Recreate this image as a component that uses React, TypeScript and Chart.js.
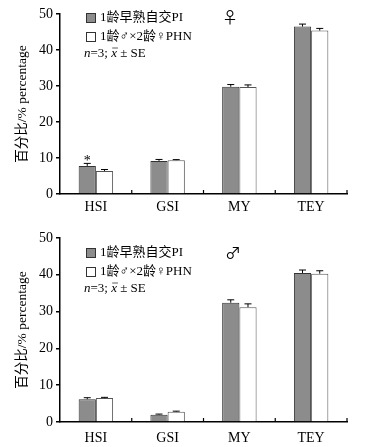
import React, { useEffect, useRef } from "react";
import { Chart, registerables } from "chart.js";
Chart.register(...registerables);

const categories = ["HSI", "GSI", "MY", "TEY"];
const seriesNames = ["1龄早熟自交PI", "1龄♂×2龄♀PHN"];
const yTickValues = [0, 10, 20, 30, 40, 50];
const yTitle = "百分比/% percentage";

// Female panel (♀)
const femalePI = [7.8, 9.2, 29.8, 46.5];
const femalePIErr = [0.7, 0.4, 0.6, 0.7];
const femalePHN = [6.4, 9.4, 29.7, 45.4];
const femalePHNErr = [0.4, 0.15, 0.6, 0.6];
const femaleStars = ["HSI"];

// Male panel (♂)
const malePI = [6.2, 2.0, 32.4, 40.5];
const malePIErr = [0.4, 0.15, 0.8, 0.8];
const malePHN = [6.5, 2.8, 31.2, 40.3];
const malePHNErr = [0.2, 0.15, 0.9, 0.8];
const maleStars: string[] = [];

const SERIF = '"Liberation Serif", "Noto Sans CJK SC", serif';

type Panel = {
  sex: string;
  pi: number[];
  piErr: number[];
  phn: number[];
  phnErr: number[];
  stars: string[];
  height: number;
  padTop: number;
  xHeight: number;
  tickPad: number;
  legendY: number[];
  sexPos: [number, number];
};

function makePlugin(p: Panel) {
  return {
    id: "extras",
    afterDatasetsDraw(chart: any) {
      const ctx = chart.ctx;
      const ys = chart.scales.y;
      const xs = chart.scales.x;
      const area = chart.chartArea;
      ctx.save();
      // error bars (upper half)
      const errs = [p.piErr, p.phnErr];
      chart.data.datasets.forEach((ds: any, di: number) => {
        const meta = chart.getDatasetMeta(di);
        meta.data.forEach((el: any, i: number) => {
          const v = ds.data[i];
          const top = ys.getPixelForValue(v + errs[di][i]);
          ctx.strokeStyle = "#000";
          ctx.lineWidth = 1;
          ctx.beginPath();
          ctx.moveTo(el.x, el.y);
          ctx.lineTo(el.x, top);
          ctx.moveTo(el.x - 3.5, top);
          ctx.lineTo(el.x + 3.5, top);
          ctx.stroke();
          if (di === 0 && p.stars.includes(categories[i])) {
            ctx.fillStyle = "#000";
            ctx.font = "14px " + SERIF;
            ctx.textAlign = "center";
            ctx.textBaseline = "middle";
            ctx.fillText("*", el.x, top - 2);
          }
        });
      });
      // x-axis inner ticks at category boundaries
      const n = categories.length;
      ctx.strokeStyle = "#000";
      ctx.lineWidth = 1.2;
      for (let i = 0; i < n; i++) {
        const bx =
          i < n - 1
            ? (xs.getPixelForValue(i) + xs.getPixelForValue(i + 1)) / 2
            : area.right;
        ctx.beginPath();
        ctx.moveTo(bx, area.bottom);
        ctx.lineTo(bx, area.bottom - 4);
        ctx.stroke();
      }
      // y-axis title
      ctx.save();
      ctx.translate(22, (area.top + area.bottom) / 2);
      ctx.rotate(-Math.PI / 2);
      ctx.font = "13.5px " + SERIF;
      ctx.fillStyle = "#000";
      ctx.textAlign = "center";
      ctx.textBaseline = "middle";
      ctx.fillText(yTitle, 0, 0);
      ctx.restore();
      // legend
      const fills = ["#8c8c8c", "#ffffff"];
      ctx.font = "13px " + SERIF;
      ctx.textBaseline = "middle";
      ctx.textAlign = "left";
      for (let k = 0; k < 2; k++) {
        const y = p.legendY[k];
        ctx.fillStyle = fills[k];
        ctx.fillRect(86, y - 5, 10, 10);
        ctx.strokeStyle = "#333";
        ctx.lineWidth = 1;
        ctx.strokeRect(86.5, y - 4.5, 9, 9);
        ctx.fillStyle = "#000";
        ctx.fillText(seriesNames[k], 100, y);
      }
      // n=3; x̄ ± SE
      const y3 = p.legendY[2];
      let x = 84;
      ctx.font = "italic 13px " + SERIF;
      ctx.fillText("n", x, y3);
      x += ctx.measureText("n").width;
      ctx.font = "13px " + SERIF;
      ctx.fillText("=3; ", x, y3);
      x += ctx.measureText("=3; ").width;
      ctx.font = "italic 13px " + SERIF;
      ctx.fillText("x", x, y3);
      const xw = ctx.measureText("x").width;
      ctx.beginPath();
      ctx.lineWidth = 0.8;
      ctx.moveTo(x + 1, y3 - 6);
      ctx.lineTo(x + xw + 1, y3 - 6);
      ctx.stroke();
      x += xw;
      ctx.font = "13px " + SERIF;
      ctx.fillText(" ± SE", x, y3);
      // sex symbol
      ctx.font = '16px "Noto Sans CJK SC", "DejaVu Sans", sans-serif';
      ctx.fillText(p.sex, p.sexPos[0], p.sexPos[1]);
      ctx.restore();
    },
  };
}

function makeConfig(p: Panel): any {
  const tickFont = { family: SERIF, size: 14 };
  return {
    type: "bar",
    data: {
      labels: categories,
      datasets: [
        {
          label: seriesNames[0],
          data: p.pi,
          backgroundColor: "#8c8c8c",
          borderColor: "#333",
          borderWidth: 1,
        },
        {
          label: seriesNames[1],
          data: p.phn,
          backgroundColor: "#ffffff",
          borderColor: "#555",
          borderWidth: 1,
        },
      ],
    },
    options: {
      responsive: false,
      animation: false,
      devicePixelRatio: 1,
      categoryPercentage: 0.48,
      barPercentage: 1,
      layout: { padding: { top: p.padTop, right: 20, left: 0, bottom: 0 } },
      plugins: { legend: { display: false }, tooltip: { enabled: false } },
      scales: {
        x: {
          grid: { display: false, drawTicks: false },
          border: { display: true, color: "#000", width: 1.5 },
          ticks: { font: tickFont, color: "#000", padding: p.tickPad },
          afterFit: (s: any) => {
            s.height = p.xHeight;
          },
        },
        y: {
          min: 0,
          max: 50,
          afterBuildTicks: (s: any) => {
            s.ticks = yTickValues.map((v) => ({ value: v }));
          },
          grid: {
            drawOnChartArea: false,
            drawTicks: true,
            tickLength: 4,
            color: "#000",
            lineWidth: 1.5,
          },
          border: { display: true, color: "#000", width: 1.5 },
          ticks: { font: tickFont, color: "#000", padding: 3 },
          title: { display: false },
          afterFit: (s: any) => {
            s.width = 60;
          },
        },
      },
    },
    plugins: [makePlugin(p)],
  };
}

const panels: Panel[] = [
  {
    sex: "♀",
    pi: femalePI,
    piErr: femalePIErr,
    phn: femalePHN,
    phnErr: femalePHNErr,
    stars: femaleStars,
    height: 220,
    padTop: 14,
    xHeight: 26,
    tickPad: 5,
    legendY: [18, 37, 54],
    sexPos: [222, 17],
  },
  {
    sex: "♂",
    pi: malePI,
    piErr: malePIErr,
    phn: malePHN,
    phnErr: malePHNErr,
    stars: maleStars,
    height: 227,
    padTop: 18,
    xHeight: 25,
    tickPad: 8,
    legendY: [33, 52, 69],
    sexPos: [225, 33],
  },
];

function PanelChart({ p }: { p: Panel }) {
  const ref = useRef<HTMLCanvasElement>(null);
  useEffect(() => {
    if (!ref.current) return;
    const chart = new Chart(ref.current, makeConfig(p));
    return () => chart.destroy();
  }, [p]);
  return (
    <canvas
      ref={ref}
      width={367}
      height={p.height}
      style={{ display: "block", width: 367, height: p.height }}
    />
  );
}

export default function App() {
  return (
    <div
      style={{
        position: "absolute",
        left: 0,
        top: 0,
        width: 367,
        height: 447,
        background: "#fff",
      }}
    >
      {panels.map((p, i) => (
        <PanelChart key={i} p={p} />
      ))}
    </div>
  );
}
